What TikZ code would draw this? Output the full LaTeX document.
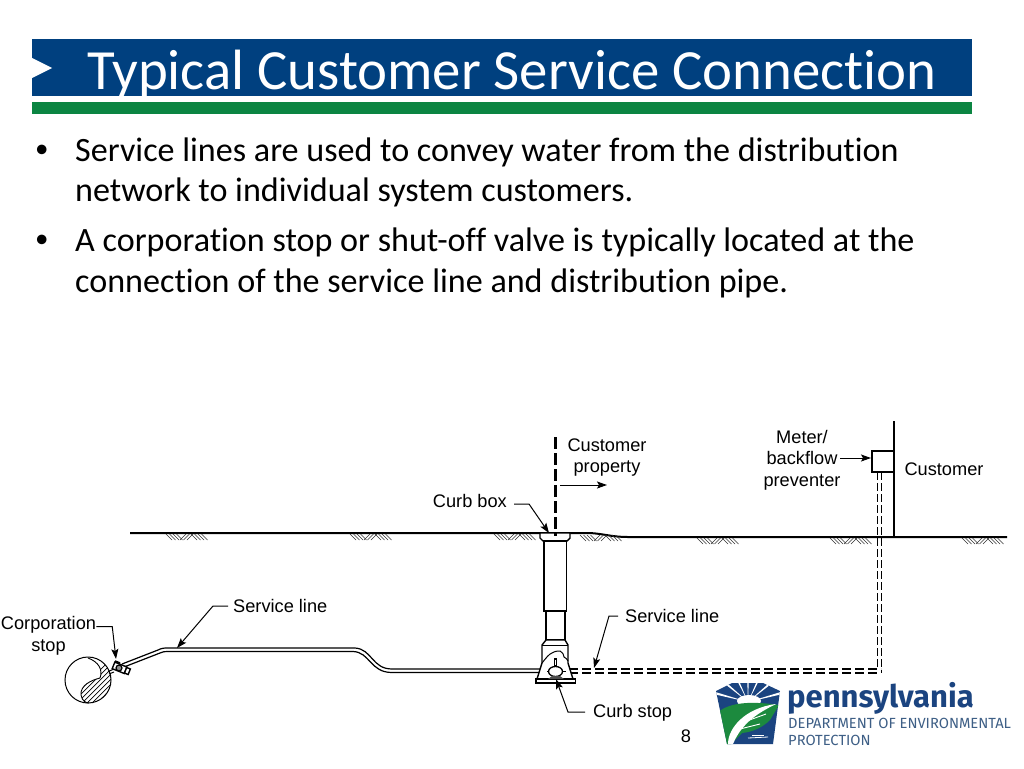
\documentclass[tikz,border=0pt]{standalone}
\usepackage{fontspec}
\setmainfont[Ligatures=NoCommon]{Carlito}
\newfontfamily\lab{Liberation Sans}
\newfontfamily\logof{Fira Sans}
\usetikzlibrary{arrows.meta}
\definecolor{hdrblue}{HTML}{00407F}
\definecolor{hdrgreen}{HTML}{0B8542}
\definecolor{logoblue}{HTML}{1B4480}
\definecolor{logogreen}{HTML}{1C8A3E}
\definecolor{logogray}{HTML}{3E5F86}
\tikzset{
  titletext/.style={anchor=base west,inner sep=0,text=white,font=\fontsize{56.8}{56.8}\selectfont},
  bodytext/.style={anchor=base west,inner sep=0,font=\fontsize{34.1}{34.1}\selectfont},
  labeltext/.style={inner sep=0,font=\lab\fontsize{18.2}{21.5}\selectfont,align=center},
  leader/.style={line width=1pt,-{Stealth[length=10pt,width=7pt,inset=2pt]}},
  pipe/.style={line width=1.2pt},
  dpipe/.style={line width=1.2pt,dash pattern=on 9pt off 4pt},
  dthin/.style={line width=0.9pt,dash pattern=on 8pt off 3pt},
  ground/.style={line width=2pt},
  hatchline/.style={line width=0.55pt,black!80},
  part/.style={line width=1.4pt,fill=white},
}
% ground hatch: #1 = left x, #2 = y of the top
\newcommand{\soilhatch}[2]{%
  \foreach \k in {0,3.5,7,10.5}{
    \draw[hatchline] (#1+\k,#2) -- (#1+\k+6,#2+6);
    \draw[hatchline] (#1+\k+25,#2) -- (#1+\k+31,#2+6);
  }
  \foreach \k in {0,3.5,7}{
    \draw[hatchline] (#1+\k+14,#2+6) -- (#1+\k+20,#2);
  }}
\begin{document}
\begin{tikzpicture}[x=1pt,y=-1pt]
\useasboundingbox (0,0) rectangle (1024,768);
\fill[white] (0,0) rectangle (1024,768);
% header
\fill[hdrblue] (32,39) rectangle (972,96);
\fill[hdrgreen] (32,102) rectangle (972,114);
\fill[white] (32,58) -- (52,68) -- (32,78) -- cycle;
\node[titletext] (title) at (87,89) {Typical Customer Service Connection};
% bullets
\node[bodytext,font=\fontsize{27}{27}\selectfont] (b1) at (35,157.5) {•};
\node[bodytext] (l1) at (75,161) {Service lines are used to convey water from the distribution};
\node[bodytext] (l2) at (75,201) {network to individual system customers.};
\node[bodytext,font=\fontsize{27}{27}\selectfont] (b2) at (35,247.5) {•};
\node[bodytext] (l3) at (75,251) {A corporation stop or shut-off valve is typically located at the};
\node[bodytext] (l4) at (75,292) {connection of the service line and distribution pipe.};
% ground
\draw[ground] (130,533) -- (590,533) .. controls (605,534) and (612,537) .. (628,537) -- (1007,537);
\soilhatch{166}{534}
\soilhatch{350}{534}
\soilhatch{494}{534}
\soilhatch{580}{535}
\soilhatch{697}{538}
\soilhatch{830}{538}
\soilhatch{962}{538}
% customer wall and meter
\draw[line width=2.2pt] (894,421) -- (894,537);
\node[draw,line width=2.2pt,fill=white,minimum width=22pt,minimum height=21pt,inner sep=0,anchor=north west] (meter) at (871,450) {};
\draw[dthin] (877,472) -- (877,669) ;
\draw[dthin] (881,472) -- (881,673);
% service line
\draw[pipe] (122,664) -- (158,650) .. controls (162,648) and (164,648) .. (168,648) -- (355,648) .. controls (372,649) and (372,669) .. (392,669) -- (545,669);
\draw[pipe] (124,667) -- (160,653) .. controls (163,651.5) and (165,651.5) .. (168,651.5) -- (353,651.5) .. controls (370,652) and (370,672.5) .. (392,672.5) -- (545,672.5);
\draw[dpipe] (569,669) -- (881,669);
\draw[dpipe] (569,673) -- (877,673);
% main pipe
\begin{scope}
  \clip (88,680) circle[radius=23];
  \clip (88,657) .. controls (99,662) and (103,670) .. (100,678)
        .. controls (92,680) and (80,685) .. (81,695)
        .. controls (82,701) and (86,703) .. (89,704)
        -- (115,704) -- (115,657) -- cycle;
  \foreach \k in {0,5,...,70}{
    \draw[line width=0.7pt] (60+\k,710) -- (60+\k+60,650);
  }
\end{scope}
\draw[line width=1pt] (88,680) circle[radius=23];
\draw[line width=0.9pt] (88,658) .. controls (99,662) and (103,670) .. (100,678)
        .. controls (92,680) and (80,685) .. (81,695) .. controls (82,701) and (86,703) .. (89,703);
% corporation stop
\draw[line width=1.4pt,fill=white,rotate around={-22:(120,668)}] (113,664.5) rectangle (126,671.5);
\draw[line width=1.4pt,fill=white,rotate around={-22:(120,668)}] (126,665) rectangle (130,671);
\draw[line width=1.2pt,fill=black!45] (119,668) circle[radius=3];
\draw[line width=1.6pt] (115,661) -- (120,663);
\draw[line width=1pt] (108,671.5) -- (113,669.5);
\draw[line width=1pt] (109,674) -- (114,672);
% curb box
\draw[part] (540,533) -- (570,533) -- (570,538) -- (567,541) -- (543,541) -- (540,538) -- cycle;
\draw[part] (544,541) rectangle (566.5,611);
\draw[part] (546,611) rectangle (565,640);
\draw[part] (546,640) -- (565,640) -- (568,645) -- (568,663) -- (573,679) -- (537,679) -- (542,663) -- (542,645) -- cycle;
\draw[line width=1pt] (542,645) -- (568,645);
\draw[part] (536,679) rectangle (575.5,683);
\draw[line width=1pt] (542,663) .. controls (546,658) and (549,654) .. (552,653) .. controls (555,651) and (558,651) .. (560,651) .. controls (563,653) and (564,655) .. (564,657) .. controls (566,658) and (567,659) .. (568,661);
% curb stop
\draw[line width=1.2pt,fill=white] (554.5,659) rectangle (556.5,666);
\draw[line width=1pt] (547,671) -- (566,671);
\draw[line width=1.3pt,fill=white] (555.5,671.5) ellipse[x radius=7,y radius=5];
\fill[black!70] (548,679) -- (552,676) -- (560,676) -- (564,679) -- cycle;
% property line
\draw[line width=2.6pt,dash pattern=on 12pt off 4pt] (555.5,437) -- (555.5,536);
% labels
\node[labeltext] (custprop) at (607,457.5) {Customer\\property};
\node[labeltext] (metertxt) at (802,460) {Meter/\\backflow\\preventer};
\node[labeltext] (customer) at (944,469.5) {Customer};
\node[labeltext,anchor=east] (curbbox) at (507,501) {Curb box};
\node[labeltext,anchor=west] (servL) at (233,606) {Service line};
\node[labeltext,anchor=west] (servR) at (625,616) {Service line};
\node[labeltext] (corp) at (48.5,636) {Corporation\\stop};
\node[labeltext,anchor=west] (curbstop) at (593,713) {Curb stop};
\node[labeltext] (pageno) at (686,736) {8};
% leaders
\coordinate (propA) at (560,485);
\coordinate (propB) at (607,485);
\coordinate (curbtip) at (549,533);
\coordinate (servLtip) at (177,648);
\coordinate (servRtip) at (594,668);
\coordinate (corptip) at (116,659);
\coordinate (stoptip) at (556,679);
\coordinate (meterstart) at (840,458);
\coordinate (stopbend) at (585,712);
\draw[leader] (propA) -- (propB);
\draw[leader] (meterstart) -- (meterstart -| meter.west);
\draw[leader] (curbbox.east) ++(7,3) -- ++(15,0) -- (curbtip);
\draw[leader] (servL.west) ++(-5,0) -- ++(-15,0) -- (servLtip);
\draw[leader] (servR.west) ++(-7,0) -- ++(-9,0) -- (servRtip);
\draw[leader] (corp.north east) ++(0,10) -- ++(16,0) -- (corptip);
\draw[leader] (stopbend) -- ++(-17,0) -- (stoptip);
% logo
\fill[logoblue] (732,683) -- (763,683) -- (780,691) -- (773,744) -- (727,744) -- (716,691) -- cycle;
\begin{scope}
  \clip (732,683) -- (763,683) -- (780,691) -- (773,744) -- (727,744) -- (716,691) -- cycle;
  \foreach \a in {-165,-140,-115,-90,-65,-40,-15}{
    \fill[white] (748,702) -- ++(\a-2:34) -- ++(\a+92:2.4) -- cycle;
  }
  \fill[white] (749,701) ellipse[x radius=12,y radius=6];
  \fill[logogreen] (716,714) .. controls (726,704) and (745,700) .. (779,705) -- (770,720)
     .. controls (762,728) and (752,732) .. (742,733) -- (731,744) -- (726,744) -- cycle;
  \fill[white] (728,744) .. controls (728,728) and (745,708) .. (776,704)
     .. controls (760,712) and (742,722) .. (733,744) -- cycle;
  \draw[white,line width=0.9pt] (744,722) -- (766,714);
  \draw[white,line width=0.9pt] (740,729) -- (760,724);
  \draw[white,line width=0.8pt] (748,738) -- (768,737);
  \draw[white,line width=0.8pt] (752,735) -- (764,735);
\end{scope}
\node[anchor=base west,inner sep=0,text=logoblue,font=\logof\bfseries\fontsize{31}{31}\selectfont] (logo1) at (787,707) {pennsylvania};
\node[anchor=base west,inner sep=0,text=logogray,font=\logof\fontsize{14.7}{14.7}\selectfont] (logo2) at (788,728) {DEPARTMENT OF ENVIRONMENTAL};
\node[anchor=base west,inner sep=0,text=logogray,font=\logof\fontsize{14.7}{14.7}\selectfont] (logo3) at (788,745) {PROTECTION};
\end{tikzpicture}
\end{document}
